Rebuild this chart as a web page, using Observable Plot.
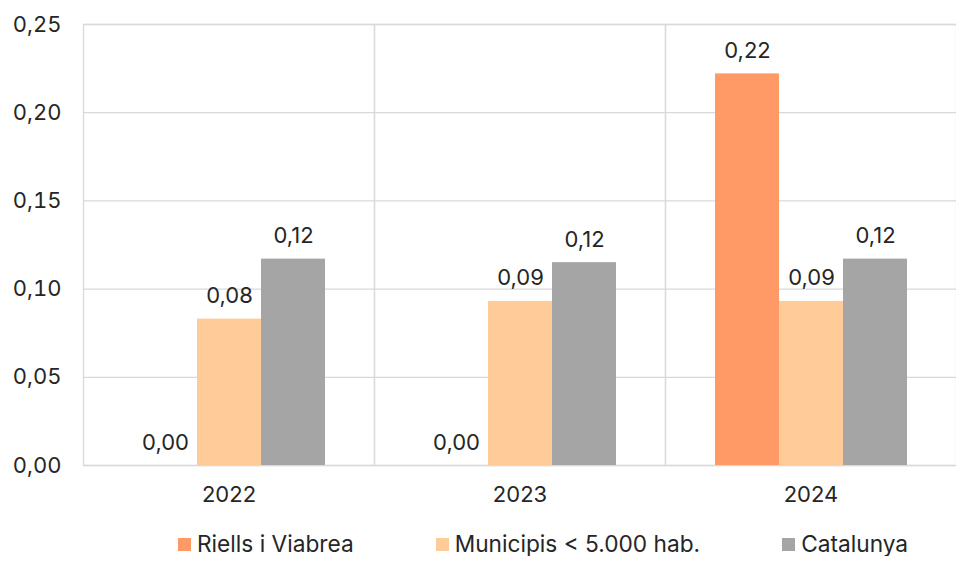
<!DOCTYPE html>
<html>
<head>
<meta charset="utf-8">
<script src="https://cdn.jsdelivr.net/npm/d3@7"></script>
<script src="https://cdn.jsdelivr.net/npm/@observablehq/plot@0.6"></script>
<style>
  body { margin: 0; background: #fff; font-family: Inter, sans-serif; }
  #legend { display: flex; align-items: center; padding-left: 178px; gap: 82px; margin-top: 17px; font-size: 22.7px; color: #262626; line-height: 24px; }
  .item { display: flex; align-items: center; gap: 6px; }
  .sw { width: 13px; height: 13px; display: inline-block; }
</style>
</head>
<body>
<div id="chart"></div>
<div id="legend"></div>
<script>
const years = ["2022", "2023", "2024"];
const series = ["Riells i Viabrea", "Municipis < 5.000 hab.", "Catalunya"];
const colors = ["#FF9966", "#FFCC99", "#A5A5A5"];
const riells = [0.0, 0.0, 0.222];
const municipis = [0.083, 0.093, 0.093];
const catalunya = [0.117, 0.115, 0.117];
const yTicks = [0, 0.05, 0.10, 0.15, 0.20, 0.25];

const seriesValues = [riells, municipis, catalunya];
const data = [];
years.forEach((yr, i) => series.forEach((s, j) => data.push({year: yr, series: s, value: seriesValues[j][i]})));

const fmt = d => d.toFixed(2).replace(".", ",");

const chart = Plot.plot({
  width: 956,
  height: 515,
  marginTop: 24,
  marginBottom: 50,
  marginLeft: 82,
  marginRight: 0,
  style: {fontFamily: "Inter, sans-serif", fontSize: "22px", color: "#262626", background: "#fff"},
  fx: {domain: years, padding: 0, label: null, tickSize: 0, tickPadding: 21},
  x: {domain: series, paddingInner: 0, paddingOuter: 0.75, axis: null},
  y: {domain: [0, 0.25], ticks: yTicks, tickFormat: fmt, tickSize: 0, tickPadding: 22, label: null},
  color: {domain: series, range: colors},
  facet: {data, x: "year"},
  marks: [
    Plot.ruleY(yTicks, {stroke: "#d9d9d9", strokeWidth: 1.3}),
    Plot.frame({stroke: "#d9d9d9", strokeWidth: 1.3}),
    Plot.barY(data, {x: "series", y: "value", fill: "series"}),
    Plot.text(data, {x: "series", y: "value", text: d => fmt(d.value), dy: -23, fill: "#262626", fontSize: 22})
  ]
});
document.getElementById("chart").appendChild(chart);

const legend = document.getElementById("legend");
series.forEach((s, i) => {
  const it = document.createElement("div");
  it.className = "item";
  const sw = document.createElement("span");
  sw.className = "sw";
  sw.style.background = colors[i];
  const t = document.createElement("span");
  t.textContent = s;
  it.appendChild(sw);
  it.appendChild(t);
  legend.appendChild(it);
});
</script>
</body>
</html>
